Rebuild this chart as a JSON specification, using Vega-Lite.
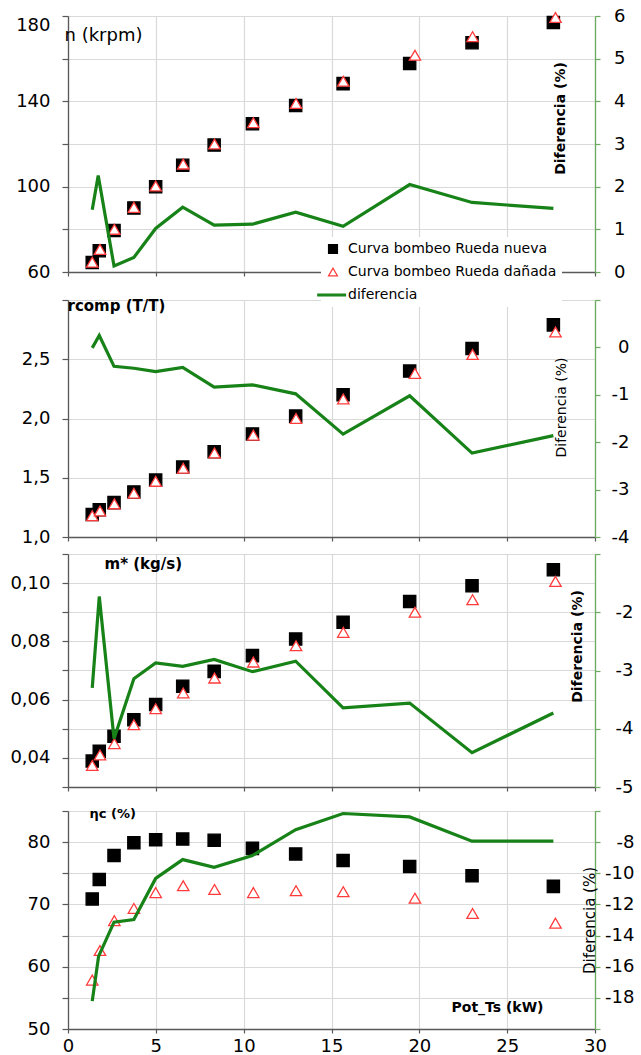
{
  "$schema": "https://vega.github.io/schema/vega-lite/v6.json",
  "autosize": {"type": "pad"},
  "padding": {"left": 9, "top": 7, "right": 0, "bottom": 0},
  "background": "white",
  "spacing": 0,
  "config": {
    "view": {"stroke": null},
    "concat": {"spacing": 0},
    "axis": {
      "labelFont": "DejaVu Sans", "labelFontSize": 18, "labelColor": "#000000",
      "titleFont": "DejaVu Sans", "titleColor": "#000000",
      "gridColor": "#d9d9d9", "gridWidth": 1.2,
      "domainColor": "#595959", "domainWidth": 1.3,
      "tickColor": "#595959", "tickWidth": 1.2
    }
  },
  "datasets": {
    "d": [
      {"panel": "n", "serie": "Curva bombeo Rueda nueva", "pot": 1.38, "valor": 64.5},
      {"panel": "n", "serie": "Curva bombeo Rueda nueva", "pot": 1.78, "valor": 70.0},
      {"panel": "n", "serie": "Curva bombeo Rueda nueva", "pot": 2.62, "valor": 79.5},
      {"panel": "n", "serie": "Curva bombeo Rueda nueva", "pot": 3.75, "valor": 90.0},
      {"panel": "n", "serie": "Curva bombeo Rueda nueva", "pot": 4.99, "valor": 100.0},
      {"panel": "n", "serie": "Curva bombeo Rueda nueva", "pot": 6.53, "valor": 110.0},
      {"panel": "n", "serie": "Curva bombeo Rueda nueva", "pot": 8.32, "valor": 119.5},
      {"panel": "n", "serie": "Curva bombeo Rueda nueva", "pot": 10.5, "valor": 129.5},
      {"panel": "n", "serie": "Curva bombeo Rueda nueva", "pot": 12.96, "valor": 138.0},
      {"panel": "n", "serie": "Curva bombeo Rueda nueva", "pot": 15.66, "valor": 148.3},
      {"panel": "n", "serie": "Curva bombeo Rueda nueva", "pot": 19.45, "valor": 157.7},
      {"panel": "n", "serie": "Curva bombeo Rueda nueva", "pot": 23.0, "valor": 167.5},
      {"panel": "n", "serie": "Curva bombeo Rueda nueva", "pot": 27.63, "valor": 177.0},
      {"panel": "n", "serie": "Curva bombeo Rueda dañada", "pot": 1.38, "valor": 64.6},
      {"panel": "n", "serie": "Curva bombeo Rueda dañada", "pot": 1.82, "valor": 70.6},
      {"panel": "n", "serie": "Curva bombeo Rueda dañada", "pot": 2.64, "valor": 80.0},
      {"panel": "n", "serie": "Curva bombeo Rueda dañada", "pot": 3.75, "valor": 90.3},
      {"panel": "n", "serie": "Curva bombeo Rueda dañada", "pot": 4.99, "valor": 100.3},
      {"panel": "n", "serie": "Curva bombeo Rueda dañada", "pot": 6.56, "valor": 110.6},
      {"panel": "n", "serie": "Curva bombeo Rueda dañada", "pot": 8.34, "valor": 120.0},
      {"panel": "n", "serie": "Curva bombeo Rueda dañada", "pot": 10.55, "valor": 130.0},
      {"panel": "n", "serie": "Curva bombeo Rueda dañada", "pot": 12.98, "valor": 139.0},
      {"panel": "n", "serie": "Curva bombeo Rueda dañada", "pot": 15.67, "valor": 149.4},
      {"panel": "n", "serie": "Curva bombeo Rueda dañada", "pot": 19.75, "valor": 161.6},
      {"panel": "n", "serie": "Curva bombeo Rueda dañada", "pot": 23.03, "valor": 170.3},
      {"panel": "n", "serie": "Curva bombeo Rueda dañada", "pot": 27.75, "valor": 179.3},
      {"panel": "n", "serie": "diferencia", "pot": 1.38, "valor": 1.46},
      {"panel": "n", "serie": "diferencia", "pot": 1.72, "valor": 2.26},
      {"panel": "n", "serie": "diferencia", "pot": 2.62, "valor": 0.14},
      {"panel": "n", "serie": "diferencia", "pot": 3.75, "valor": 0.34},
      {"panel": "n", "serie": "diferencia", "pot": 4.99, "valor": 1.02},
      {"panel": "n", "serie": "diferencia", "pot": 6.53, "valor": 1.52},
      {"panel": "n", "serie": "diferencia", "pot": 8.32, "valor": 1.10},
      {"panel": "n", "serie": "diferencia", "pot": 10.5, "valor": 1.12},
      {"panel": "n", "serie": "diferencia", "pot": 12.96, "valor": 1.40},
      {"panel": "n", "serie": "diferencia", "pot": 15.66, "valor": 1.07},
      {"panel": "n", "serie": "diferencia", "pot": 19.45, "valor": 2.05},
      {"panel": "n", "serie": "diferencia", "pot": 23.0, "valor": 1.63},
      {"panel": "n", "serie": "diferencia", "pot": 27.63, "valor": 1.49},

      {"panel": "r", "serie": "Curva bombeo Rueda nueva", "pot": 1.38, "valor": 1.19},
      {"panel": "r", "serie": "Curva bombeo Rueda nueva", "pot": 1.78, "valor": 1.23},
      {"panel": "r", "serie": "Curva bombeo Rueda nueva", "pot": 2.62, "valor": 1.29},
      {"panel": "r", "serie": "Curva bombeo Rueda nueva", "pot": 3.75, "valor": 1.38},
      {"panel": "r", "serie": "Curva bombeo Rueda nueva", "pot": 4.99, "valor": 1.48},
      {"panel": "r", "serie": "Curva bombeo Rueda nueva", "pot": 6.53, "valor": 1.59},
      {"panel": "r", "serie": "Curva bombeo Rueda nueva", "pot": 8.32, "valor": 1.72},
      {"panel": "r", "serie": "Curva bombeo Rueda nueva", "pot": 10.5, "valor": 1.87},
      {"panel": "r", "serie": "Curva bombeo Rueda nueva", "pot": 12.96, "valor": 2.02},
      {"panel": "r", "serie": "Curva bombeo Rueda nueva", "pot": 15.66, "valor": 2.20},
      {"panel": "r", "serie": "Curva bombeo Rueda nueva", "pot": 19.45, "valor": 2.40},
      {"panel": "r", "serie": "Curva bombeo Rueda nueva", "pot": 23.0, "valor": 2.59},
      {"panel": "r", "serie": "Curva bombeo Rueda nueva", "pot": 27.63, "valor": 2.79},
      {"panel": "r", "serie": "Curva bombeo Rueda dañada", "pot": 1.38, "valor": 1.18},
      {"panel": "r", "serie": "Curva bombeo Rueda dañada", "pot": 1.82, "valor": 1.22},
      {"panel": "r", "serie": "Curva bombeo Rueda dañada", "pot": 2.64, "valor": 1.28},
      {"panel": "r", "serie": "Curva bombeo Rueda dañada", "pot": 3.75, "valor": 1.37},
      {"panel": "r", "serie": "Curva bombeo Rueda dañada", "pot": 4.99, "valor": 1.47},
      {"panel": "r", "serie": "Curva bombeo Rueda dañada", "pot": 6.56, "valor": 1.58},
      {"panel": "r", "serie": "Curva bombeo Rueda dañada", "pot": 8.34, "valor": 1.71},
      {"panel": "r", "serie": "Curva bombeo Rueda dañada", "pot": 10.55, "valor": 1.86},
      {"panel": "r", "serie": "Curva bombeo Rueda dañada", "pot": 12.98, "valor": 2.00},
      {"panel": "r", "serie": "Curva bombeo Rueda dañada", "pot": 15.67, "valor": 2.165},
      {"panel": "r", "serie": "Curva bombeo Rueda dañada", "pot": 19.75, "valor": 2.38},
      {"panel": "r", "serie": "Curva bombeo Rueda dañada", "pot": 23.03, "valor": 2.54},
      {"panel": "r", "serie": "Curva bombeo Rueda dañada", "pot": 27.75, "valor": 2.73},
      {"panel": "r", "serie": "diferencia", "pot": 1.38, "valor": -0.01},
      {"panel": "r", "serie": "diferencia", "pot": 1.78, "valor": 0.25},
      {"panel": "r", "serie": "diferencia", "pot": 2.62, "valor": -0.40},
      {"panel": "r", "serie": "diferencia", "pot": 3.75, "valor": -0.44},
      {"panel": "r", "serie": "diferencia", "pot": 4.99, "valor": -0.51},
      {"panel": "r", "serie": "diferencia", "pot": 6.53, "valor": -0.42},
      {"panel": "r", "serie": "diferencia", "pot": 8.32, "valor": -0.84},
      {"panel": "r", "serie": "diferencia", "pot": 10.5, "valor": -0.79},
      {"panel": "r", "serie": "diferencia", "pot": 12.96, "valor": -0.98},
      {"panel": "r", "serie": "diferencia", "pot": 15.66, "valor": -1.83},
      {"panel": "r", "serie": "diferencia", "pot": 19.45, "valor": -1.02},
      {"panel": "r", "serie": "diferencia", "pot": 23.0, "valor": -2.23},
      {"panel": "r", "serie": "diferencia", "pot": 27.63, "valor": -1.86},

      {"panel": "m", "serie": "Curva bombeo Rueda nueva", "pot": 1.38, "valor": 0.0389},
      {"panel": "m", "serie": "Curva bombeo Rueda nueva", "pot": 1.78, "valor": 0.0423},
      {"panel": "m", "serie": "Curva bombeo Rueda nueva", "pot": 2.62, "valor": 0.0474},
      {"panel": "m", "serie": "Curva bombeo Rueda nueva", "pot": 3.75, "valor": 0.0531},
      {"panel": "m", "serie": "Curva bombeo Rueda nueva", "pot": 4.99, "valor": 0.0583},
      {"panel": "m", "serie": "Curva bombeo Rueda nueva", "pot": 6.53, "valor": 0.0646},
      {"panel": "m", "serie": "Curva bombeo Rueda nueva", "pot": 8.32, "valor": 0.0697},
      {"panel": "m", "serie": "Curva bombeo Rueda nueva", "pot": 10.5, "valor": 0.0751},
      {"panel": "m", "serie": "Curva bombeo Rueda nueva", "pot": 12.96, "valor": 0.0808},
      {"panel": "m", "serie": "Curva bombeo Rueda nueva", "pot": 15.66, "valor": 0.0866},
      {"panel": "m", "serie": "Curva bombeo Rueda nueva", "pot": 19.45, "valor": 0.0937},
      {"panel": "m", "serie": "Curva bombeo Rueda nueva", "pot": 23.0, "valor": 0.0991},
      {"panel": "m", "serie": "Curva bombeo Rueda nueva", "pot": 27.63, "valor": 0.1046},
      {"panel": "m", "serie": "Curva bombeo Rueda dañada", "pot": 1.38, "valor": 0.0374},
      {"panel": "m", "serie": "Curva bombeo Rueda dañada", "pot": 1.82, "valor": 0.0410},
      {"panel": "m", "serie": "Curva bombeo Rueda dañada", "pot": 2.64, "valor": 0.0449},
      {"panel": "m", "serie": "Curva bombeo Rueda dañada", "pot": 3.75, "valor": 0.0514},
      {"panel": "m", "serie": "Curva bombeo Rueda dañada", "pot": 4.99, "valor": 0.0569},
      {"panel": "m", "serie": "Curva bombeo Rueda dañada", "pot": 6.56, "valor": 0.0623},
      {"panel": "m", "serie": "Curva bombeo Rueda dañada", "pot": 8.34, "valor": 0.0674},
      {"panel": "m", "serie": "Curva bombeo Rueda dañada", "pot": 10.55, "valor": 0.0729},
      {"panel": "m", "serie": "Curva bombeo Rueda dañada", "pot": 12.98, "valor": 0.0785},
      {"panel": "m", "serie": "Curva bombeo Rueda dañada", "pot": 15.67, "valor": 0.0831},
      {"panel": "m", "serie": "Curva bombeo Rueda dañada", "pot": 19.75, "valor": 0.0900},
      {"panel": "m", "serie": "Curva bombeo Rueda dañada", "pot": 23.03, "valor": 0.0943},
      {"panel": "m", "serie": "Curva bombeo Rueda dañada", "pot": 27.75, "valor": 0.1006},
      {"panel": "m", "serie": "diferencia", "pot": 1.38, "valor": -3.30},
      {"panel": "m", "serie": "diferencia", "pot": 1.78, "valor": -1.73},
      {"panel": "m", "serie": "diferencia", "pot": 2.62, "valor": -4.17},
      {"panel": "m", "serie": "diferencia", "pot": 3.75, "valor": -3.14},
      {"panel": "m", "serie": "diferencia", "pot": 4.99, "valor": -2.87},
      {"panel": "m", "serie": "diferencia", "pot": 6.53, "valor": -2.93},
      {"panel": "m", "serie": "diferencia", "pot": 8.32, "valor": -2.81},
      {"panel": "m", "serie": "diferencia", "pot": 10.5, "valor": -3.02},
      {"panel": "m", "serie": "diferencia", "pot": 12.96, "valor": -2.84},
      {"panel": "m", "serie": "diferencia", "pot": 15.66, "valor": -3.64},
      {"panel": "m", "serie": "diferencia", "pot": 19.45, "valor": -3.56},
      {"panel": "m", "serie": "diferencia", "pot": 23.0, "valor": -4.41},
      {"panel": "m", "serie": "diferencia", "pot": 27.63, "valor": -3.73},

      {"panel": "e", "serie": "Curva bombeo Rueda nueva", "pot": 1.38, "valor": 70.87},
      {"panel": "e", "serie": "Curva bombeo Rueda nueva", "pot": 1.78, "valor": 74.0},
      {"panel": "e", "serie": "Curva bombeo Rueda nueva", "pot": 2.62, "valor": 77.85},
      {"panel": "e", "serie": "Curva bombeo Rueda nueva", "pot": 3.75, "valor": 79.9},
      {"panel": "e", "serie": "Curva bombeo Rueda nueva", "pot": 4.99, "valor": 80.4},
      {"panel": "e", "serie": "Curva bombeo Rueda nueva", "pot": 6.53, "valor": 80.5},
      {"panel": "e", "serie": "Curva bombeo Rueda nueva", "pot": 8.32, "valor": 80.3},
      {"panel": "e", "serie": "Curva bombeo Rueda nueva", "pot": 10.5, "valor": 79.0},
      {"panel": "e", "serie": "Curva bombeo Rueda nueva", "pot": 12.96, "valor": 78.1},
      {"panel": "e", "serie": "Curva bombeo Rueda nueva", "pot": 15.66, "valor": 77.05},
      {"panel": "e", "serie": "Curva bombeo Rueda nueva", "pot": 19.45, "valor": 76.1},
      {"panel": "e", "serie": "Curva bombeo Rueda nueva", "pot": 23.0, "valor": 74.6},
      {"panel": "e", "serie": "Curva bombeo Rueda nueva", "pot": 27.63, "valor": 72.9},
      {"panel": "e", "serie": "Curva bombeo Rueda dañada", "pot": 1.38, "valor": 57.85},
      {"panel": "e", "serie": "Curva bombeo Rueda dañada", "pot": 1.82, "valor": 62.6},
      {"panel": "e", "serie": "Curva bombeo Rueda dañada", "pot": 2.64, "valor": 67.4},
      {"panel": "e", "serie": "Curva bombeo Rueda dañada", "pot": 3.75, "valor": 69.35},
      {"panel": "e", "serie": "Curva bombeo Rueda dañada", "pot": 4.99, "valor": 71.9},
      {"panel": "e", "serie": "Curva bombeo Rueda dañada", "pot": 6.56, "valor": 73.0},
      {"panel": "e", "serie": "Curva bombeo Rueda dañada", "pot": 8.34, "valor": 72.4},
      {"panel": "e", "serie": "Curva bombeo Rueda dañada", "pot": 10.55, "valor": 71.9},
      {"panel": "e", "serie": "Curva bombeo Rueda dañada", "pot": 12.98, "valor": 72.2},
      {"panel": "e", "serie": "Curva bombeo Rueda dañada", "pot": 15.67, "valor": 72.05},
      {"panel": "e", "serie": "Curva bombeo Rueda dañada", "pot": 19.75, "valor": 71.0},
      {"panel": "e", "serie": "Curva bombeo Rueda dañada", "pot": 23.03, "valor": 68.55},
      {"panel": "e", "serie": "Curva bombeo Rueda dañada", "pot": 27.75, "valor": 67.0},
      {"panel": "e", "serie": "diferencia", "pot": 1.38, "valor": -18.21},
      {"panel": "e", "serie": "diferencia", "pot": 1.74, "valor": -15.34},
      {"panel": "e", "serie": "diferencia", "pot": 2.62, "valor": -13.14},
      {"panel": "e", "serie": "diferencia", "pot": 3.75, "valor": -12.97},
      {"panel": "e", "serie": "diferencia", "pot": 4.99, "valor": -10.33},
      {"panel": "e", "serie": "diferencia", "pot": 6.53, "valor": -9.12},
      {"panel": "e", "serie": "diferencia", "pot": 8.32, "valor": -9.62},
      {"panel": "e", "serie": "diferencia", "pot": 10.5, "valor": -8.86},
      {"panel": "e", "serie": "diferencia", "pot": 12.96, "valor": -7.2},
      {"panel": "e", "serie": "diferencia", "pot": 15.66, "valor": -6.16},
      {"panel": "e", "serie": "diferencia", "pot": 19.45, "valor": -6.38},
      {"panel": "e", "serie": "diferencia", "pot": 23.0, "valor": -7.94},
      {"panel": "e", "serie": "diferencia", "pot": 27.63, "valor": -7.94}
    ]
  },
  "data": {"name": "d"},
  "vconcat": [
    {
      "width": 527, "height": 256,
      "layer": [
        {
          "transform": [{"filter": "datum.panel == 'n' && datum.serie != 'diferencia'"}],
          "mark": {"type": "point", "filled": true, "opacity": 1, "strokeWidth": 1.3},
          "encoding": {
            "x": {"field": "pot", "type": "quantitative", "scale": {"domain": [0, 30], "nice": false},
                  "axis": {"values": [0, 5, 10, 15, 20, 25, 30], "labels": false, "title": null, "tickSize": 4, "minExtent": 26, "maxExtent": 26}},
            "y": {"field": "valor", "type": "quantitative", "scale": {"domain": [60, 180], "nice": false, "zero": false},
                  "axis": {"values": [60, 80, 100, 120, 140, 160, 180], "labelExpr": "datum.value % 40 == 0 ? '' : datum.label",
                           "labelBaseline": {"condition": {"test": "datum.value == 180", "value": "top"}, "value": "middle"},
                           "tickSize": 6, "labelPadding": 12, "title": "n (krpm)", "titleAngle": 0, "titleX": -4, "titleY": 19,
                           "titleAlign": "left", "titleBaseline": "middle", "titleFontSize": 18, "titleFontWeight": "normal"}},
            "size": {"condition": {"test": "datum.serie == 'Curva bombeo Rueda nueva'", "value": 150}, "value": 130},
            "shape": {"field": "serie", "type": "nominal",
                      "scale": {"domain": ["Curva bombeo Rueda nueva", "Curva bombeo Rueda dañada", "diferencia"], "range": ["square", "triangle-up", "M-3.4,-0.2H2.8V0.2H-3.4Z"]},
                      "legend": {"title": null, "orient": "none", "legendX": 253, "legendY": 221, "fillColor": "white", "padding": 5,
                                 "labelFont": "DejaVu Sans", "labelFontSize": 14, "labelColor": "#000000", "labelOffset": 8, "labelLimit": 400,
                                 "rowPadding": 9, "symbolSize": 80, "symbolStrokeWidth": 1.2}},
            "fill": {"field": "serie", "type": "nominal",
                     "scale": {"domain": ["Curva bombeo Rueda nueva", "Curva bombeo Rueda dañada", "diferencia"], "range": ["#000000", "#ffffff", "#178217"]},
                     "legend": {"title": null, "orient": "none", "legendX": 253, "legendY": 221, "fillColor": "white", "padding": 5,
                                 "labelFont": "DejaVu Sans", "labelFontSize": 14, "labelColor": "#000000", "labelOffset": 8, "labelLimit": 400,
                                 "rowPadding": 9, "symbolSize": 80, "symbolStrokeWidth": 1.2}},
            "stroke": {"field": "serie", "type": "nominal",
                       "scale": {"domain": ["Curva bombeo Rueda nueva", "Curva bombeo Rueda dañada", "diferencia"], "range": ["#000000", "#ff3b3b", "#178217"]},
                       "legend": {"title": null, "orient": "none", "legendX": 253, "legendY": 221, "fillColor": "white", "padding": 5,
                                 "labelFont": "DejaVu Sans", "labelFontSize": 14, "labelColor": "#000000", "labelOffset": 8, "labelLimit": 400,
                                 "rowPadding": 9, "symbolSize": 80, "symbolStrokeWidth": 1.2}}
          }
        },
        {
          "transform": [{"filter": "datum.panel == 'n' && datum.serie == 'diferencia'"}],
          "mark": {"type": "line", "strokeWidth": 3.2},
          "encoding": {
            "x": {"field": "pot", "type": "quantitative", "scale": {"domain": [0, 30], "nice": false},
                  "axis": {"values": [0, 5, 10, 15, 20, 25, 30], "labels": false, "title": null, "tickSize": 4, "minExtent": 26, "maxExtent": 26}},
            "y": {"field": "valor", "type": "quantitative", "scale": {"domain": [0, 6], "nice": false, "zero": false},
                  "axis": {"orient": "right", "values": [0, 1, 2, 3, 4, 5, 6], "grid": false, "domainColor": "#6aab5f", "tickColor": "#6aab5f",
                           "tickSize": 5, "labelAlign": "right", "labelPadding": 25, "labelExpr": "toString(datum.value)",
                           "title": "Diferencia (%)", "titleAngle": 270, "titleX": -35, "titleY": 102, "titleAlign": "center", "titleBaseline": "middle",
                           "titleFontSize": 14, "titleFontWeight": "bold"}},
            "stroke": {"field": "serie", "type": "nominal",
                       "scale": {"domain": ["Curva bombeo Rueda nueva", "Curva bombeo Rueda dañada", "diferencia"], "range": ["#000000", "#ff3b3b", "#178217"]}}
          }
        }
      ],
      "resolve": {"scale": {"y": "independent"}}
    },
    {
      "width": 527, "height": 237,
      "layer": [
        {
          "transform": [{"filter": "datum.panel == 'r' && datum.serie != 'diferencia'"}],
          "mark": {"type": "point", "filled": true, "opacity": 1, "strokeWidth": 1.3},
          "encoding": {
            "x": {"field": "pot", "type": "quantitative", "scale": {"domain": [0, 30], "nice": false},
                  "axis": {"values": [0, 5, 10, 15, 20, 25, 30], "labels": false, "title": null, "tickSize": 4, "minExtent": 16, "maxExtent": 16}},
            "y": {"field": "valor", "type": "quantitative", "scale": {"domain": [1, 3], "nice": false, "zero": false},
                  "axis": {"values": [1, 1.5, 2, 2.5, 3], "labelExpr": "datum.value >= 3 ? '' : replace(format(datum.value, '.1f'), '.', ',')",
                           "tickSize": 6, "labelPadding": 12, "title": "rcomp (T/T)", "titleAngle": 0, "titleX": -1, "titleY": 5,
                           "titleAlign": "left", "titleBaseline": "middle", "titleFontSize": 15, "titleFontWeight": "bold"}},
            "size": {"condition": {"test": "datum.serie == 'Curva bombeo Rueda nueva'", "value": 150}, "value": 130},
            "shape": {"field": "serie", "type": "nominal",
                      "scale": {"domain": ["Curva bombeo Rueda nueva", "Curva bombeo Rueda dañada", "diferencia"], "range": ["square", "triangle-up", "M-3.4,-0.2H2.8V0.2H-3.4Z"]}},
            "fill": {"field": "serie", "type": "nominal",
                     "scale": {"domain": ["Curva bombeo Rueda nueva", "Curva bombeo Rueda dañada", "diferencia"], "range": ["#000000", "#ffffff", "#178217"]}},
            "stroke": {"field": "serie", "type": "nominal",
                       "scale": {"domain": ["Curva bombeo Rueda nueva", "Curva bombeo Rueda dañada", "diferencia"], "range": ["#000000", "#ff3b3b", "#178217"]}}
          }
        },
        {
          "transform": [{"filter": "datum.panel == 'r' && datum.serie == 'diferencia'"}],
          "mark": {"type": "line", "strokeWidth": 3.2},
          "encoding": {
            "x": {"field": "pot", "type": "quantitative", "scale": {"domain": [0, 30], "nice": false},
                  "axis": {"values": [0, 5, 10, 15, 20, 25, 30], "labels": false, "title": null, "tickSize": 4, "minExtent": 16, "maxExtent": 16}},
            "y": {"field": "valor", "type": "quantitative", "scale": {"domain": [-4, 1], "nice": false, "zero": false},
                  "axis": {"orient": "right", "values": [-4, -3, -2, -1, 0, 1], "grid": false, "domainColor": "#6aab5f", "tickColor": "#6aab5f",
                           "tickSize": 5, "labelAlign": "right", "labelPadding": 29, "labelExpr": "datum.value >= 1 ? '' : toString(datum.value)",
                           "title": "Diferencia (%)", "titleAngle": 270, "titleX": -34, "titleY": 107, "titleAlign": "center", "titleBaseline": "middle",
                           "titleFontSize": 14, "titleFontWeight": "normal"}},
            "stroke": {"field": "serie", "type": "nominal",
                       "scale": {"domain": ["Curva bombeo Rueda nueva", "Curva bombeo Rueda dañada", "diferencia"], "range": ["#000000", "#ff3b3b", "#178217"]}}
          }
        }
      ],
      "resolve": {"scale": {"y": "independent"}}
    },
    {
      "width": 527, "height": 233,
      "layer": [
        {
          "transform": [{"filter": "datum.panel == 'm' && datum.serie != 'diferencia'"}],
          "mark": {"type": "point", "filled": true, "opacity": 1, "strokeWidth": 1.3},
          "encoding": {
            "x": {"field": "pot", "type": "quantitative", "scale": {"domain": [0, 30], "nice": false},
                  "axis": {"values": [0, 5, 10, 15, 20, 25, 30], "labels": false, "title": null, "tickSize": 4, "minExtent": 20, "maxExtent": 20}},
            "y": {"field": "valor", "type": "quantitative", "scale": {"domain": [0.03, 0.11], "nice": false, "zero": false},
                  "axis": {"values": [0.03, 0.04, 0.05, 0.06, 0.07, 0.08, 0.09, 0.1, 0.11],
                           "labelExpr": "round(datum.value * 100) % 2 == 0 ? replace(format(datum.value, '.2f'), '.', ',') : ''",
                           "tickSize": 6, "labelPadding": 12, "title": "m* (kg/s)", "titleAngle": 0, "titleX": 36, "titleY": 9,
                           "titleAlign": "left", "titleBaseline": "middle", "titleFontSize": 15, "titleFontWeight": "bold"}},
            "size": {"condition": {"test": "datum.serie == 'Curva bombeo Rueda nueva'", "value": 150}, "value": 130},
            "shape": {"field": "serie", "type": "nominal",
                      "scale": {"domain": ["Curva bombeo Rueda nueva", "Curva bombeo Rueda dañada", "diferencia"], "range": ["square", "triangle-up", "M-3.4,-0.2H2.8V0.2H-3.4Z"]}},
            "fill": {"field": "serie", "type": "nominal",
                     "scale": {"domain": ["Curva bombeo Rueda nueva", "Curva bombeo Rueda dañada", "diferencia"], "range": ["#000000", "#ffffff", "#178217"]}},
            "stroke": {"field": "serie", "type": "nominal",
                       "scale": {"domain": ["Curva bombeo Rueda nueva", "Curva bombeo Rueda dañada", "diferencia"], "range": ["#000000", "#ff3b3b", "#178217"]}}
          }
        },
        {
          "transform": [{"filter": "datum.panel == 'm' && datum.serie == 'diferencia'"}],
          "mark": {"type": "line", "strokeWidth": 3.2},
          "encoding": {
            "x": {"field": "pot", "type": "quantitative", "scale": {"domain": [0, 30], "nice": false},
                  "axis": {"values": [0, 5, 10, 15, 20, 25, 30], "labels": false, "title": null, "tickSize": 4, "minExtent": 20, "maxExtent": 20}},
            "y": {"field": "valor", "type": "quantitative", "scale": {"domain": [-5, -1], "nice": false, "zero": false},
                  "axis": {"orient": "right", "values": [-5, -4, -3, -2, -1], "grid": false, "domainColor": "#6aab5f", "tickColor": "#6aab5f",
                           "tickSize": 5, "labelAlign": "right", "labelPadding": 33, "labelExpr": "datum.value >= -1 ? '' : toString(datum.value)",
                           "title": "Diferencia (%)", "titleAngle": 270, "titleX": -18, "titleY": 92, "titleAlign": "center", "titleBaseline": "middle",
                           "titleFontSize": 14, "titleFontWeight": "bold"}},
            "stroke": {"field": "serie", "type": "nominal",
                       "scale": {"domain": ["Curva bombeo Rueda nueva", "Curva bombeo Rueda dañada", "diferencia"], "range": ["#000000", "#ff3b3b", "#178217"]}}
          }
        }
      ],
      "resolve": {"scale": {"y": "independent"}}
    },
    {
      "width": 527, "height": 218,
      "layer": [
        {
          "transform": [{"filter": "datum.panel == 'e' && datum.serie != 'diferencia'"}],
          "mark": {"type": "point", "filled": true, "opacity": 1, "strokeWidth": 1.3},
          "encoding": {
            "x": {"field": "pot", "type": "quantitative", "scale": {"domain": [0, 30], "nice": false},
                  "axis": {"values": [0, 5, 10, 15, 20, 25, 30], "tickSize": 4, "labelPadding": 4, "labelFlush": false,
                           "title": "Pot_Ts (kW)", "titleX": 383, "titleY": -22, "titleAlign": "left", "titleBaseline": "middle", "titleAnchor": "start",
                           "titleFontSize": 14, "titleFontWeight": "bold"}},
            "y": {"field": "valor", "type": "quantitative", "scale": {"domain": [50, 85], "nice": false, "zero": false},
                  "axis": {"values": [50, 55, 60, 65, 70, 75, 80, 85], "labelExpr": "datum.value % 10 == 0 ? datum.label : ''",
                           "tickSize": 6, "labelPadding": 12, "title": "ηc (%)", "titleAngle": 0, "titleX": 21, "titleY": 2,
                           "titleAlign": "left", "titleBaseline": "middle", "titleFontSize": 13, "titleFontWeight": "bold"}},
            "size": {"condition": {"test": "datum.serie == 'Curva bombeo Rueda nueva'", "value": 150}, "value": 130},
            "shape": {"field": "serie", "type": "nominal",
                      "scale": {"domain": ["Curva bombeo Rueda nueva", "Curva bombeo Rueda dañada", "diferencia"], "range": ["square", "triangle-up", "M-3.4,-0.2H2.8V0.2H-3.4Z"]}},
            "fill": {"field": "serie", "type": "nominal",
                     "scale": {"domain": ["Curva bombeo Rueda nueva", "Curva bombeo Rueda dañada", "diferencia"], "range": ["#000000", "#ffffff", "#178217"]}},
            "stroke": {"field": "serie", "type": "nominal",
                       "scale": {"domain": ["Curva bombeo Rueda nueva", "Curva bombeo Rueda dañada", "diferencia"], "range": ["#000000", "#ff3b3b", "#178217"]}}
          }
        },
        {
          "transform": [{"filter": "datum.panel == 'e' && datum.serie == 'diferencia'"}],
          "mark": {"type": "line", "strokeWidth": 3.2},
          "encoding": {
            "x": {"field": "pot", "type": "quantitative", "scale": {"domain": [0, 30], "nice": false},
                  "axis": {"values": [0, 5, 10, 15, 20, 25, 30], "tickSize": 4, "labelPadding": 4, "labelFlush": false,
                           "title": "Pot_Ts (kW)", "titleX": 383, "titleY": -22, "titleAlign": "left", "titleBaseline": "middle", "titleAnchor": "start",
                           "titleFontSize": 14, "titleFontWeight": "bold"}},
            "y": {"field": "valor", "type": "quantitative", "scale": {"domain": [-20, -6], "nice": false, "zero": false},
                  "axis": {"orient": "right", "values": [-20, -18, -16, -14, -12, -10, -8, -6], "grid": false, "domainColor": "#6aab5f", "tickColor": "#6aab5f",
                           "tickSize": 5, "labelAlign": "right", "labelPadding": 34, "labelExpr": "(datum.value <= -20 || datum.value >= -6) ? '' : toString(datum.value)",
                           "title": "Diferencia (%)", "titleAngle": 270, "titleX": -6, "titleY": 109, "titleAlign": "center", "titleBaseline": "middle",
                           "titleFontSize": 15, "titleFontWeight": "normal"}},
            "stroke": {"field": "serie", "type": "nominal",
                       "scale": {"domain": ["Curva bombeo Rueda nueva", "Curva bombeo Rueda dañada", "diferencia"], "range": ["#000000", "#ff3b3b", "#178217"]}}
          }
        }
      ],
      "resolve": {"scale": {"y": "independent"}}
    }
  ]
}
